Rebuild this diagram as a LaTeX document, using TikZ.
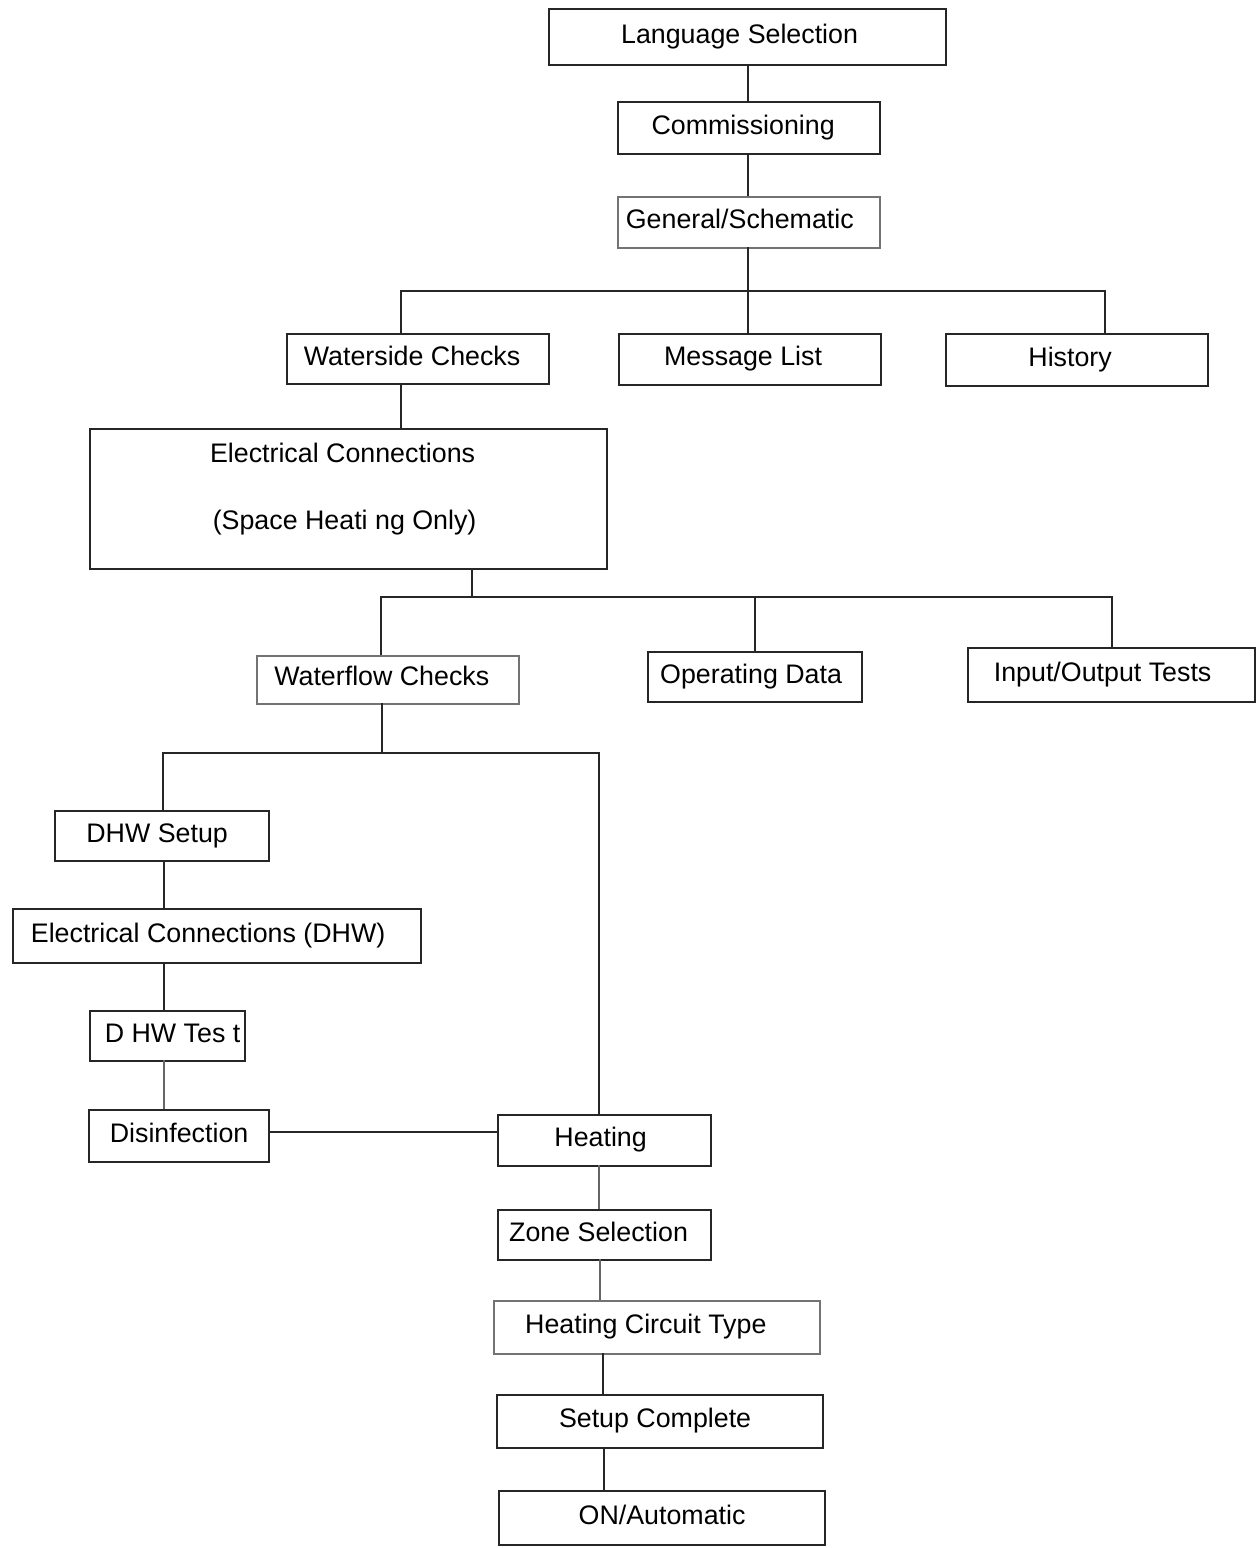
\documentclass[tikz,border=0pt]{standalone}
\usepackage{fontspec}
\setmainfont{Liberation Sans}
\begin{document}
\begin{tikzpicture}[x=0.5pt,y=-0.5pt,
  box/.style={draw=black!85, line width=1.1pt, fill=white, inner sep=0pt, anchor=north west,
    font=\fontsize{13.4}{16}\selectfont, text height=9.25pt, text depth=3.35pt},
  lbox/.style={box, draw=black!55, line width=0.8pt},
  wire/.style={draw=black!85, line width=1.1pt},
  thin/.style={draw=black!60, line width=0.8pt}]
\useasboundingbox (0,0) rectangle (1259,1548);
\fill[white] (0,0) rectangle (1259,1548);
% boxes: anchor north west at (x,y), size in px
\node[box, minimum width=198.5pt, minimum height=28pt] (ls) at (548,8) {\hspace*{-8pt}Language Selection};
\node[box, minimum width=131pt, minimum height=26pt] (com) at (617,101) {\hspace*{-6pt}Commissioning};
\node[lbox, minimum width=131pt, minimum height=25.5pt] (gen) at (617,196) {\hspace*{-9pt}General/Schematic};
\node[box, minimum width=131pt, minimum height=25pt] (ws) at (286,333) {\hspace*{-6pt}Waterside Checks};
\node[box, minimum width=131pt, minimum height=25.5pt] (ml) at (618,333) {\hspace*{-7pt}Message List};
\node[box, minimum width=131pt, minimum height=26pt] (hist) at (945,333) {\hspace*{-7pt}History};
\node[box, minimum width=258.5pt, minimum height=70pt, align=center,
  font=\fontsize{13.4}{33.5}\selectfont, text height=, text depth=] (ec) at (89,428)
  {\hspace*{-6pt}Electrical Connections\\\hspace*{-4pt}(Space Heati ng Only)\rule[-13pt]{0pt}{0pt}};
\node[lbox, minimum width=131pt, minimum height=24pt] (wf) at (256,655) {\hspace*{-6pt}Waterflow Checks};
\node[box, minimum width=107pt, minimum height=25pt] (od) at (647,651) {\hspace*{-4pt}Operating Data};
\node[box, minimum width=143.5pt, minimum height=27pt] (io) at (967,647) {\hspace*{-9pt}Input/Output Tests};
\node[box, minimum width=107pt, minimum height=25pt] (dhw) at (54,810) {\hspace*{-5pt}DHW Setup};
\node[box, minimum width=204pt, minimum height=27pt] (ecd) at (12,908) {\hspace*{-9pt}Electrical Connections (DHW)};
\node[box, minimum width=77.5pt, minimum height=25pt] (dt) at (89,1010) {\hspace*{5pt}D HW Tes t};
\node[box, minimum width=90pt, minimum height=26pt] (dis) at (88,1109) {Disinfection};
\node[box, minimum width=106.5pt, minimum height=25.5pt] (heat) at (497,1114) {\hspace*{-4pt}Heating};
\node[box, minimum width=106.5pt, minimum height=25pt] (zone) at (497,1209) {\hspace*{-6pt}Zone Selection};
\node[lbox, minimum width=163pt, minimum height=26.5pt] (hct) at (493,1300) {\hspace*{-11pt}Heating Circuit Type};
\node[box, minimum width=163pt, minimum height=26.5pt] (sc) at (496,1394) {\hspace*{-5pt}Setup Complete};
\node[box, minimum width=163pt, minimum height=27pt] (on) at (498,1490) {ON/Automatic};
% junction coordinates
\coordinate (j1) at (748,291);
\coordinate (j2) at (472,597);
\coordinate (j3) at (382,753);
% connectors
\draw[wire] (748,64) -- (748,101);
\draw[wire] (748,153) -- (748,196);
\draw[wire] (748,247) -- (j1);
\draw[wire] (401,333) |- (1105,291) -- (1105,333);
\draw[wire] (j1) -- (748,333);
\draw[wire] (401,383) -- (401,428);
\draw[wire] (472,568) -- (j2);
\draw[wire] (381,655) |- (1112,597) -- (1112,647);
\draw[wire] (755,597) -- (755,651);
\draw[wire] (382,703) -- (j3);
\draw[wire] (163,810) |- (599,753) -- (599,1114);
\draw[wire] (164,860) -- (164,908);
\draw[wire] (164,962) -- (164,1010);
\draw[thin] (164,1060) -- (164,1109);
\draw[wire] (dis.east |- 0,1132) -- (heat.west |- 0,1132);
\draw[thin] (599,1165) -- (599,1209);
\draw[thin] (600,1259) -- (600,1300);
\draw[wire] (603,1353) -- (603,1394);
\draw[wire] (604,1447) -- (604,1490);
\end{tikzpicture}
\end{document}
